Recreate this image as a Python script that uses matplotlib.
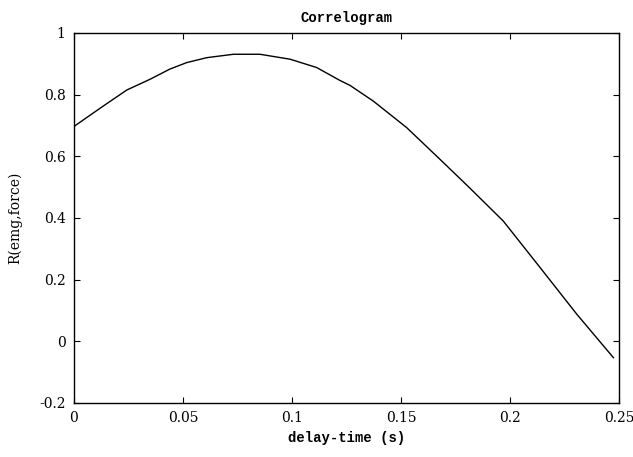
#!/usr/bin/env python3
# Correlogram of emg vs force.

import numpy as np
import matplotlib
matplotlib.use('Agg')
import matplotlib.pyplot as plt

# Delay time (s) and correlation values.
delay = [0.0, 0.0134, 0.0242, 0.0349, 0.0440, 0.0517, 0.0609, 0.0731, 0.0853,
         0.0991, 0.1113, 0.1220, 0.1266, 0.1373, 0.1526, 0.1679, 0.1817,
         0.1969, 0.2138, 0.2306, 0.2474]
corr = [0.697, 0.763, 0.815, 0.850, 0.883, 0.904, 0.920, 0.931, 0.931,
        0.915, 0.888, 0.846, 0.830, 0.779, 0.693, 0.590, 0.496,
        0.390, 0.239, 0.088, -0.053]

xticks = [0, 0.05, 0.1, 0.15, 0.2, 0.25]
xtick_labels = ['0', '0.05', '0.1', '0.15', '0.2', '0.25']
yticks = [-0.2, 0, 0.2, 0.4, 0.6, 0.8, 1]
ytick_labels = ['-0.2', '0', '0.2', '0.4', '0.6', '0.8', '1']

plt.rcParams['font.family'] = ['DejaVu Serif']

fig = plt.figure(figsize=(6.33, 4.57), dpi=100)
ax = fig.add_axes([0.1169, 0.1182, 0.8611, 0.8096])

ax.plot(delay, corr, color='black', linewidth=1.0)

ax.set_xlim(0, 0.25)
ax.set_ylim(-0.2, 1)
ax.set_xticks(xticks)
ax.set_xticklabels(xtick_labels)
ax.set_yticks(yticks)
ax.set_yticklabels(ytick_labels)
ax.tick_params(direction='in', length=4, width=0.8, top=True, right=True,
               labelsize=10, pad=6)
for s in ax.spines.values():
    s.set_linewidth(1.0)

ax.set_title('Correlogram', fontsize=10, family='Liberation Mono',
             fontweight='bold', pad=8)
ax.set_xlabel('delay-time (s)', fontsize=10, family='Liberation Mono',
              fontweight='bold', labelpad=4)
ax.set_ylabel('R(emg,force)', fontsize=10, labelpad=12)

plt.savefig('out.png', dpi=100)
